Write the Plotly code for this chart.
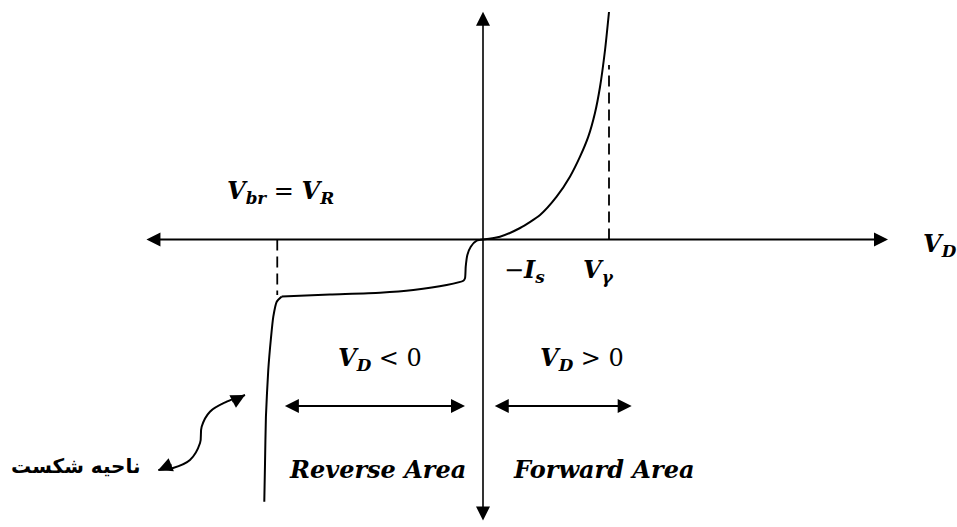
import plotly.graph_objects as go

# Diode I-V characteristic (schematic units: volts on x, arbitrary current on y)
forward_v = [0.0, 0.094, 0.206, 0.317, 0.409, 0.483, 0.539, 0.585, 0.622, 0.650, 0.678, 0.700]
forward_i = [0.0, 0.056, 0.230, 0.490, 0.856, 1.256, 1.656, 2.056, 2.530, 3.050, 3.790, 4.550]

reverse_v = [0.0, -0.035, -0.068, -0.087, -0.096, -0.100, -0.109, -0.202, -0.387, -0.572, -0.850, -1.118]
reverse_i = [0.0, -0.024, -0.144, -0.310, -0.544, -0.776, -0.824, -0.910, -1.010, -1.064, -1.100, -1.140]

breakdown_v = [-1.118, -1.146, -1.165, -1.179, -1.193, -1.206, -1.211, -1.215]
breakdown_i = [-1.140, -1.244, -1.544, -2.010, -2.610, -3.544, -4.470, -5.244]

v_gamma = 0.70
v_br = -1.143

# S-shaped callout pointing at the breakdown branch
callout_v = [-1.804, -1.722, -1.628, -1.572, -1.563, -1.517, -1.424, -1.350, -1.322]
callout_i = [-4.610, -4.570, -4.410, -4.070, -3.744, -3.444, -3.244, -3.144, -3.110]

MATH = "DejaVu Serif"
FS = 24

fig = go.Figure()

line = dict(color="black", width=2, shape="spline", smoothing=0.6)
for xs, ys in [(forward_v, forward_i), (reverse_v, reverse_i), (breakdown_v, breakdown_i)]:
    fig.add_trace(go.Scatter(x=xs, y=ys, mode="lines", line=line, hoverinfo="skip"))

fig.add_trace(go.Scatter(x=callout_v, y=callout_i, mode="lines",
                         line=dict(color="black", width=2, shape="spline", smoothing=1.0),
                         hoverinfo="skip"))

# dashed markers for V_gamma and V_br
dash = dict(color="black", width=1.8, dash="11px,6px")
fig.add_shape(type="line", x0=v_gamma, x1=v_gamma, y0=0, y1=3.49, line=dash)
fig.add_shape(type="line", x0=v_br, x1=v_br, y0=0, y1=-1.11, line=dash)


def arrow(x0, y0, x1, y1, both=False, size=1.4, width=2.0):
    fig.add_annotation(
        x=x1, y=y1, ax=x0, ay=y0, xref="x", yref="y", axref="x", ayref="y",
        text="", showarrow=True, arrowhead=2, startarrowhead=2,
        arrowside="end+start" if both else "end",
        arrowsize=size, startarrowsize=size, arrowwidth=width,
        arrowcolor="black", standoff=0, startstandoff=0,
    )


# axes
arrow(-1.878, 0, 2.25, 0, both=True, size=1.4, width=2.0)
arrow(0, -5.65, 0, 4.556, both=True, size=1.75, width=1.6)

# region arrows
arrow(-1.109, -3.33, -0.10, -3.33, both=True, size=1.4, width=2.0)
arrow(0.057, -3.33, 0.826, -3.33, both=True, size=1.4, width=2.0)

# callout arrowheads
arrow(-1.4006, -3.26, -1.322, -3.11, size=1.4, width=2.0)
arrow(-1.722, -4.49, -1.804, -4.61, size=1.4, width=2.0)


def label(x, y, text, family=MATH, size=FS):
    fig.add_annotation(x=x, y=y, xref="x", yref="y", text=text, showarrow=False,
                       xanchor="center", yanchor="middle",
                       font=dict(family=family, size=size, color="black"))


def bi(s):
    return f"<b><i>{s}</i></b>"


label(-1.123, 0.95, f"{bi('V')}<sub>{bi('br')}</sub> = {bi('V')}<sub>{bi('R')}</sub>")
label(2.54, -0.11, f"{bi('V')}<sub>{bi('D')}</sub>")
label(0.228, -0.63, f"−{bi('I')}<sub>{bi('s')}</sub>")
label(0.641, -0.63, f"{bi('V')}<sub>{bi('γ')}</sub>")
label(-0.572, -2.39, f"{bi('V')}<sub>{bi('D')}</sub> &lt; 0")
label(0.548, -2.39, f"{bi('V')}<sub>{bi('D')}</sub> &gt; 0")
label(-0.586, -4.60, bi("Reverse Area"))
label(0.672, -4.60, bi("Forward Area"))
label(-2.262, -4.53, "<b>ناحیه شکست</b>", family="DejaVu Sans", size=20)

fig.update_layout(
    width=957, height=527,
    margin=dict(l=0, r=0, t=0, b=0),
    paper_bgcolor="white", plot_bgcolor="white",
    showlegend=False,
    xaxis=dict(range=[-2.6833, 2.6333], visible=False, fixedrange=True),
    yaxis=dict(range=[-5.75, 4.79], visible=False, fixedrange=True),
)

fig.write_html("out.html")
